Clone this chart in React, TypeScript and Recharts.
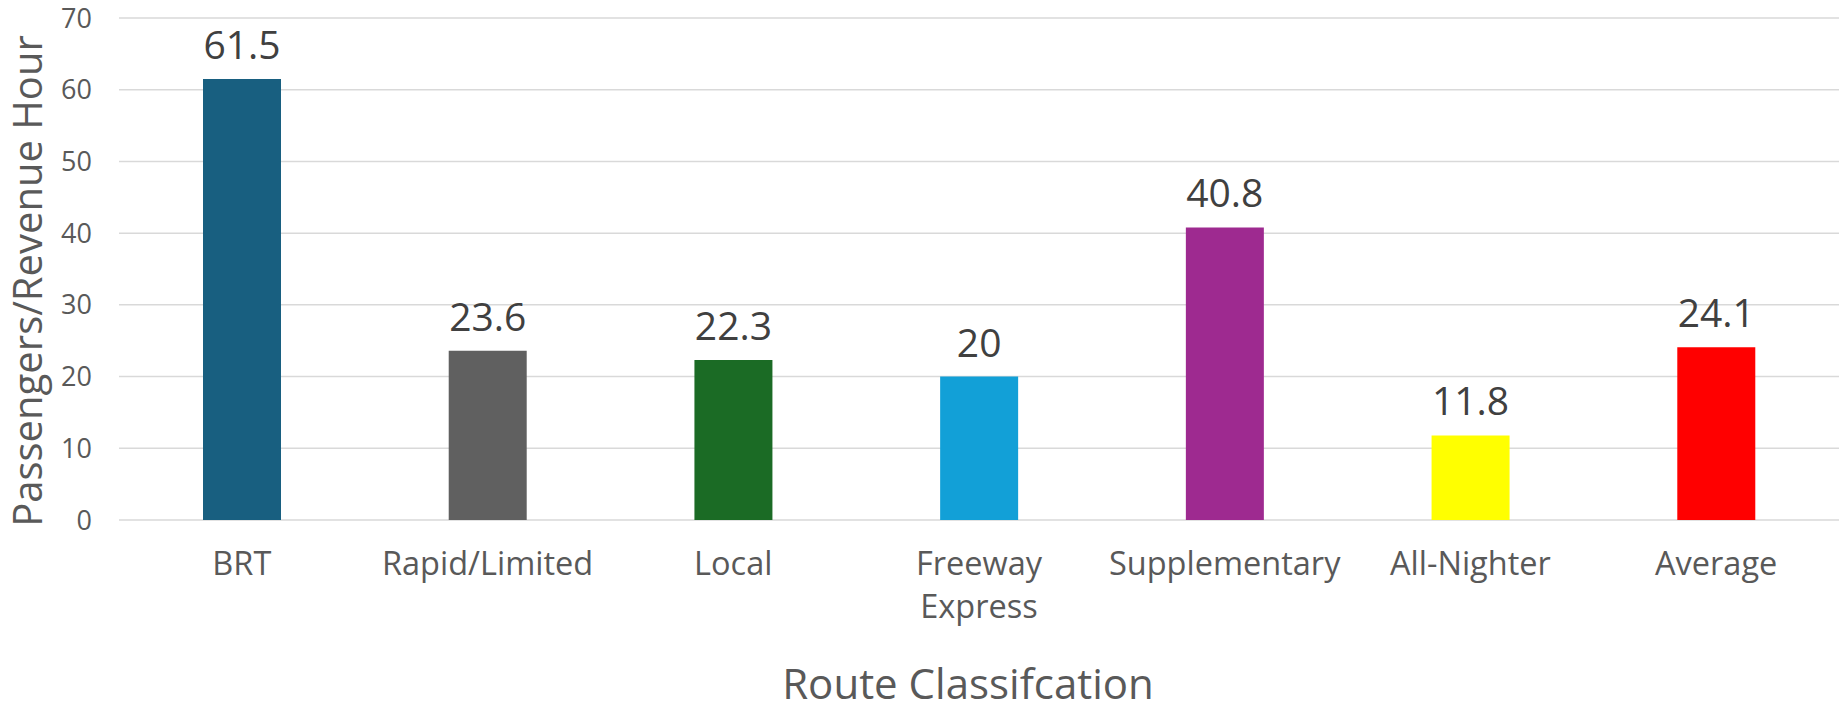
import { BarChart, Bar, XAxis, YAxis, CartesianGrid, Cell, LabelList } from 'recharts';

const CATEGORIES = ['BRT', 'Rapid/Limited', 'Local', 'Freeway Express', 'Supplementary', 'All-Nighter', 'Average'];
const VALUES = [61.5, 23.6, 22.3, 20, 40.8, 11.8, 24.1];
const COLORS = ['#185f80', '#606060', '#1b6b25', '#12a0d7', '#9e2a90', '#ffff00', '#ff0000'];
const Y_TICKS = [0, 10, 20, 30, 40, 50, 60, 70];

const FONT = '"Open Sans", "DejaVu Sans", sans-serif';

const data = CATEGORIES.map((name, i) => ({ name, value: VALUES[i], color: COLORS[i] }));

// Excel wraps the long category name onto two lines
function CategoryTick(props: any) {
  const { x, y, payload } = props;
  const label: string = payload.value;
  const lines = label.length > 13 ? label.split(' ') : [label];
  return (
    <g>
      {lines.map((line, i) => (
        <text
          key={i}
          x={x}
          y={y + i * 43}
          dy="0.71em"
          textAnchor="middle"
          fill="#595959"
          fontSize={32.5}
          fontFamily={FONT}
        >
          {line}
        </text>
      ))}
    </g>
  );
}

function YTitle(props: any) {
  const vb = props.viewBox;
  const cx = 26;
  const cy = vb.y + vb.height / 2 + 12;
  return (
    <text
      x={cx}
      y={cy}
      transform={`rotate(-90, ${cx}, ${cy})`}
      textAnchor="middle"
      dominantBaseline="central"
      fill="#595959"
      fontSize={40}
      fontFamily={FONT}
    >
      Passengers/Revenue Hour
    </text>
  );
}

function XTitle(props: any) {
  const vb = props.viewBox;
  return (
    <text
      x={vb.x + vb.width / 2 - 11}
      y={vb.y + 162}
      textAnchor="middle"
      dominantBaseline="central"
      fill="#595959"
      fontSize={42}
      fontFamily={FONT}
    >
      Route Classifcation
    </text>
  );
}

export default function App() {
  return (
    <div style={{ position: 'absolute', left: 0, top: 0, width: 1839, height: 707, background: '#fff' }}>
      <BarChart
        width={1839}
        height={707}
        data={data}
        margin={{ top: 18, right: 0, bottom: 0, left: 0 }}
        barCategoryGap="34%"
      >
        <CartesianGrid vertical={false} stroke="#d9d9d9" strokeWidth={1.5} />
        <XAxis
          dataKey="name"
          height={187}
          axisLine={false}
          tickLine={false}
          tickSize={0}
          tickMargin={32}
          interval={0}
          tick={<CategoryTick />}
          label={<XTitle />}
        />
        <YAxis
          domain={[0, 70]}
          ticks={Y_TICKS}
          width={119}
          axisLine={false}
          tickLine={false}
          tickSize={0}
          tickMargin={27}
          tick={{ fill: '#595959', fontSize: 27, fontFamily: FONT }}
          label={<YTitle />}
        />
        <Bar dataKey="value" barSize={78} isAnimationActive={false}>
          {data.map((d, i) => (
            <Cell key={i} fill={d.color} />
          ))}
          <LabelList
            dataKey="value"
            position="top"
            offset={20}
            fill="#404040"
            fontSize={39}
            fontFamily={FONT}
          />
        </Bar>
      </BarChart>
    </div>
  );
}
